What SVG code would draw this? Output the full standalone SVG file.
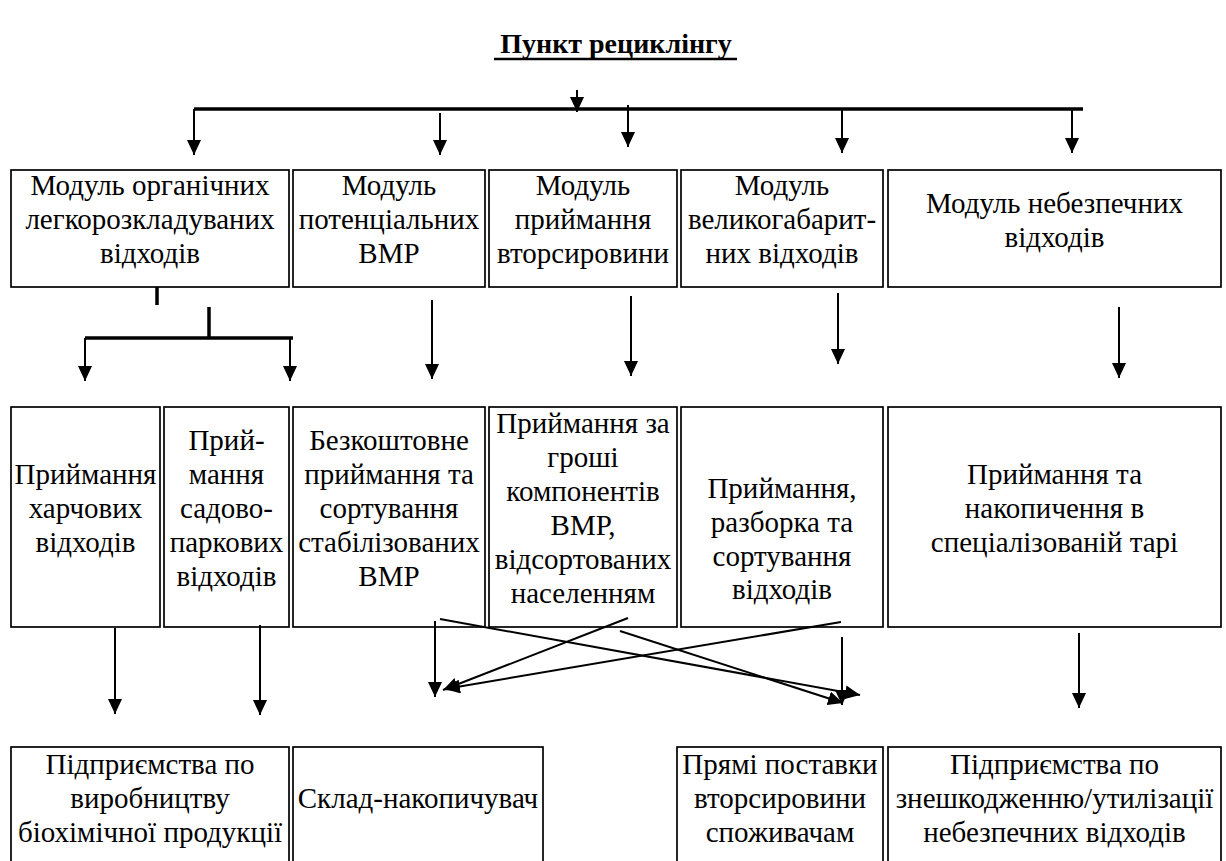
<svg xmlns="http://www.w3.org/2000/svg" width="1226" height="861" viewBox="0 0 1226 861">
  <defs>
    <marker id="arrow" markerUnits="userSpaceOnUse" markerWidth="15" markerHeight="14" refX="15" refY="7" orient="auto">
      <path d="M0,0 L15,7 L0,14 Z" fill="#000"/>
    </marker>
    <style>
      .box { fill: #fff; stroke: #000; stroke-width: 1.7; }
      .bus { stroke: #000; stroke-width: 3.5; fill: none; }
      .arr { stroke: #000; stroke-width: 2; fill: none; marker-end: url(#arrow); }
      .serif { font-family: "Liberation Serif", "Times New Roman", serif; }
    </style>
  </defs>
  <rect width="1226" height="861" fill="#fff"/>

  <g id="title" class="serif" font-size="28" font-weight="bold" text-anchor="middle">
    <text x="616" y="53">Пункт рециклінгу</text>
    <line x1="494" y1="59" x2="737" y2="59" stroke="#000" stroke-width="2.5"/>
  </g>

  <g class="serif" font-size="29" text-anchor="middle" fill="#000">
  <!-- modules -->
  <g id="m-organic">
    <rect class="box" x="11" y="170" width="278" height="117"/>
    <text x="150" y="195">Модуль органічних</text>
    <text x="150" y="229">легкорозкладуваних</text>
    <text x="150" y="263">відходів</text>
  </g>
  <g id="m-potential">
    <rect class="box" x="293" y="170" width="192" height="117"/>
    <text x="389" y="195">Модуль</text>
    <text x="389" y="229">потенціальних</text>
    <text x="389" y="263">ВМР</text>
  </g>
  <g id="m-recyclables">
    <rect class="box" x="489" y="170" width="188" height="117"/>
    <text x="583" y="195">Модуль</text>
    <text x="583" y="229">приймання</text>
    <text x="583" y="263">вторсировини</text>
  </g>
  <g id="m-bulky">
    <rect class="box" x="681" y="170" width="202" height="117"/>
    <text x="782" y="195">Модуль</text>
    <text x="782" y="229">великогабарит-</text>
    <text x="782" y="263">них відходів</text>
  </g>
  <g id="m-hazardous">
    <rect class="box" x="888" y="170" width="333" height="117"/>
    <text x="1054.5" y="213">Модуль небезпечних</text>
    <text x="1054.5" y="247">відходів</text>
  </g>

  <!-- reception operations -->
  <g id="r-food">
    <rect class="box" x="11" y="407" width="149" height="220"/>
    <text x="85.5" y="484">Приймання</text>
    <text x="85.5" y="518">харчових</text>
    <text x="85.5" y="552">відходів</text>
  </g>
  <g id="r-garden">
    <rect class="box" x="164" y="407" width="125" height="220"/>
    <text x="226.5" y="450">Прий-</text>
    <text x="226.5" y="484">мання</text>
    <text x="226.5" y="518">садово-</text>
    <text x="226.5" y="552">паркових</text>
    <text x="226.5" y="586">відходів</text>
  </g>
  <g id="r-free">
    <rect class="box" x="293" y="407" width="192" height="220"/>
    <text x="389" y="450">Безкоштовне</text>
    <text x="389" y="484">приймання та</text>
    <text x="389" y="518">сортування</text>
    <text x="389" y="552">стабілізованих</text>
    <text x="389" y="586">ВМР</text>
  </g>
  <g id="r-paid">
    <rect class="box" x="489" y="407" width="188" height="220"/>
    <text x="583" y="433">Приймання за</text>
    <text x="583" y="467">гроші</text>
    <text x="583" y="501">компонентів</text>
    <text x="583" y="535">ВМР,</text>
    <text x="583" y="569">відсортованих</text>
    <text x="583" y="603">населенням</text>
  </g>
  <g id="r-dismantle">
    <rect class="box" x="681" y="407" width="202" height="220"/>
    <text x="782" y="498">Приймання,</text>
    <text x="782" y="532">разборка та</text>
    <text x="782" y="566">сортування</text>
    <text x="782" y="599">відходів</text>
  </g>
  <g id="r-containers">
    <rect class="box" x="888" y="407" width="333" height="220"/>
    <text x="1054.5" y="484">Приймання та</text>
    <text x="1054.5" y="518">накопичення в</text>
    <text x="1054.5" y="552">спеціалізованій тарі</text>
  </g>

  <!-- destinations -->
  <g id="d-biochem">
    <rect class="box" x="11" y="747" width="278" height="120"/>
    <text x="150" y="774">Підприємства по</text>
    <text x="150" y="808">виробництву</text>
    <text x="150" y="842">біохімічної продукції</text>
  </g>
  <g id="d-storage">
    <rect class="box" x="293" y="747" width="250" height="120"/>
    <text x="418" y="808">Склад-накопичувач</text>
  </g>
  <g id="d-direct">
    <rect class="box" x="677" y="747" width="206" height="120"/>
    <text x="780" y="774">Прямі поставки</text>
    <text x="780" y="808">вторсировини</text>
    <text x="780" y="842">споживачам</text>
  </g>
  <g id="d-disposal">
    <rect class="box" x="888" y="747" width="333" height="120"/>
    <text x="1054.5" y="774">Підприємства по</text>
    <text x="1054.5" y="808">знешкодженню/утилізації</text>
    <text x="1054.5" y="842">небезпечних відходів</text>
  </g>
  </g>

  <g id="connectors">
    <!-- distribution bus -->
    <line class="arr" x1="577" y1="90" x2="577" y2="112"/>
    <line class="bus" x1="194" y1="109" x2="1083" y2="109"/>
    <line class="arr" x1="194" y1="109" x2="194" y2="155"/>
    <line class="arr" x1="440" y1="113" x2="440" y2="155"/>
    <line class="arr" x1="628" y1="105" x2="628" y2="147"/>
    <line class="arr" x1="842" y1="109" x2="842" y2="153"/>
    <line class="arr" x1="1072" y1="109" x2="1072" y2="153"/>

    <!-- organic split -->
    <line class="bus" x1="157" y1="287" x2="157" y2="305"/>
    <line class="bus" x1="209" y1="307" x2="209" y2="339"/>
    <line class="bus" x1="85" y1="338" x2="293" y2="338"/>
    <line class="arr" x1="85" y1="338" x2="85" y2="381"/>
    <line class="arr" x1="290" y1="338" x2="290" y2="381"/>

    <!-- modules to operations -->
    <line class="arr" x1="432" y1="300" x2="432" y2="379"/>
    <line class="arr" x1="631" y1="296" x2="631" y2="376"/>
    <line class="arr" x1="838" y1="293" x2="838" y2="364"/>
    <line class="arr" x1="1119" y1="307" x2="1119" y2="378"/>

    <!-- operations to destinations -->
    <line class="arr" x1="115" y1="628" x2="115" y2="714"/>
    <line class="arr" x1="260" y1="625" x2="260" y2="715"/>
    <line class="arr" x1="435" y1="621" x2="435" y2="697"/>
    <line class="arr" x1="842" y1="637" x2="842" y2="705"/>
    <line class="arr" x1="1079" y1="633" x2="1079" y2="708"/>
    <line class="arr" x1="440" y1="619" x2="860" y2="695"/>
    <line class="arr" x1="620" y1="631" x2="843" y2="703"/>
    <line class="arr" x1="628" y1="618" x2="443" y2="690"/>
    <line class="arr" x1="841" y1="622" x2="445" y2="689"/>
  </g>
</svg>
